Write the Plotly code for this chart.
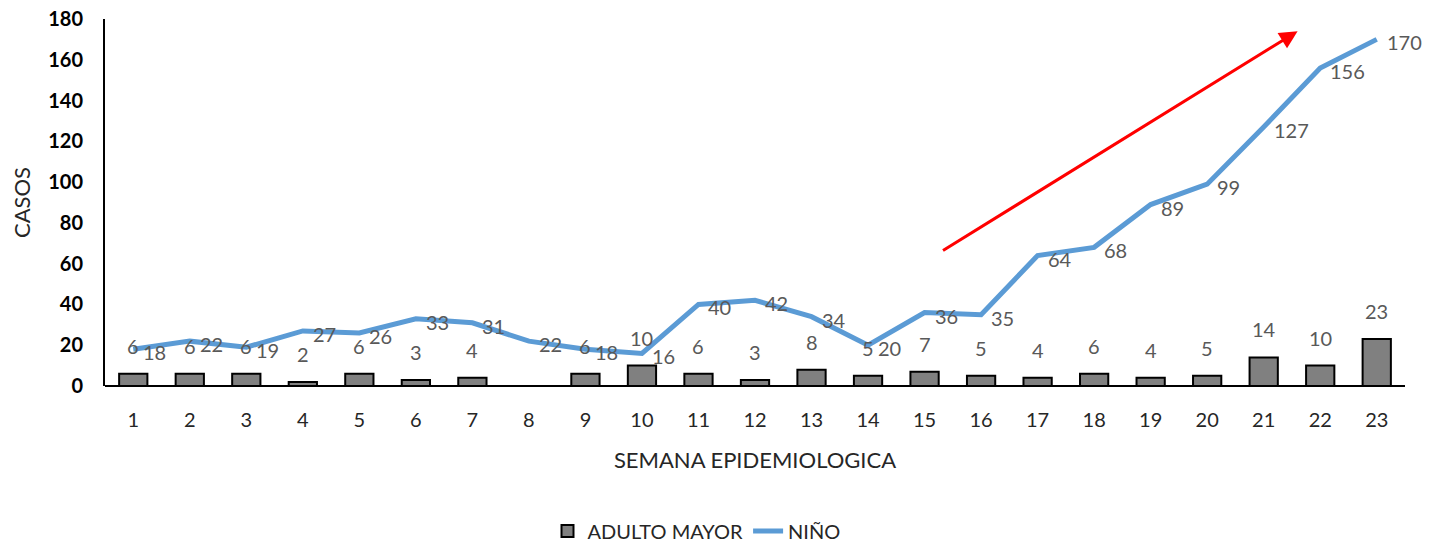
import plotly.graph_objects as go

semanas = list(range(1, 24))
adulto_mayor = [6, 6, 6, 2, 6, 3, 4, None, 6, 10, 6, 3, 8, 5, 7, 5, 4, 6, 4, 5, 14, 10, 23]
nino = [18, 22, 19, 27, 26, 33, 31, 22, 18, 16, 40, 42, 34, 20, 36, 35, 64, 68, 89, 99, 127, 156, 170]
y_ticks = list(range(0, 181, 20))

FONT = "Lato"
LABEL_COLOR = "#595959"
TEXT_COLOR = "#262626"

fig = go.Figure()
fig.add_trace(go.Bar(
    x=semanas, y=adulto_mayor, name="ADULTO MAYOR", width=0.5,
    marker=dict(color="#808080", line=dict(color="black", width=2)),
))
fig.add_trace(go.Scatter(
    x=semanas, y=nino, name="NIÑO", mode="lines",
    line=dict(color="#5B9BD5", width=5),
))

annotations = []
for s, v in zip(semanas, adulto_mayor):
    if v is None:
        continue
    annotations.append(dict(
        x=s, y=v, text=str(v), showarrow=False, yshift=28,
        font=dict(family=FONT, size=20, color=LABEL_COLOR),
    ))
for s, v in zip(semanas, nino):
    annotations.append(dict(
        x=s, y=v, text=str(v), showarrow=False, xanchor="left", xshift=8, yshift=-3,
        font=dict(family=FONT, size=20, color=LABEL_COLOR),
    ))
# red trend arrow
annotations.append(dict(
    x=21.6, y=174, ax=15.3, ay=66, xref="x", yref="y", axref="x", ayref="y",
    showarrow=True, arrowhead=2, arrowsize=1.2, arrowwidth=3, arrowcolor="#FF0000", text="",
))

fig.update_layout(
    width=1417, height=537,
    margin=dict(l=97, r=20, t=11, b=159, autoexpand=False),
    plot_bgcolor="white", paper_bgcolor="white",
    font=dict(family=FONT, size=20, color=TEXT_COLOR),
    showlegend=True,
    legend=dict(orientation="h", x=0.455, xanchor="center", y=-0.395, yanchor="middle",
                font=dict(family=FONT, size=20, color=TEXT_COLOR)),
    annotations=annotations,
    xaxis=dict(
        range=[0.5, 23.5], tickmode="array", tickvals=semanas, ticktext=[str(s) for s in semanas],
        showgrid=False, zeroline=False, showline=False, ticks="",
        ticklabelstandoff=20,
        tickfont=dict(family=FONT, size=20, color=TEXT_COLOR),
        title=dict(text="SEMANA EPIDEMIOLOGICA", font=dict(family=FONT, size=22, color=TEXT_COLOR), standoff=22),
    ),
    yaxis=dict(
        range=[0, 180], tickmode="array", tickvals=y_ticks,
        showgrid=False, zeroline=True, zerolinecolor="black", zerolinewidth=2,
        showline=True, linecolor="black", linewidth=2, ticks="",
        ticklabelstandoff=16, ticklabeloverflow="allow",
        tickfont=dict(family=FONT, size=20, color="black", weight="bold"),
        title=dict(text="CASOS", font=dict(family=FONT, size=22, color=TEXT_COLOR), standoff=12),
    ),
)

fig.write_html("out.html")
